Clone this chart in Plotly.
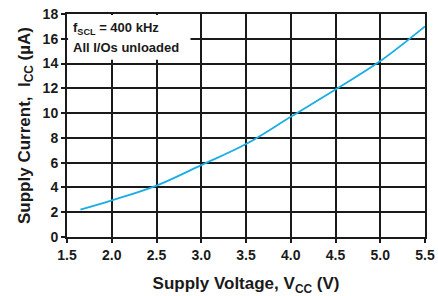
import plotly.graph_objects as go

voltage = [1.65, 2.0, 2.5, 3.0, 3.5, 4.0, 4.5, 5.0, 5.5]
current = [2.2, 2.95, 4.15, 5.8, 7.5, 9.7, 11.9, 14.2, 17.0]
x_ticks = [1.5, 2.0, 2.5, 3.0, 3.5, 4.0, 4.5, 5.0, 5.5]
y_ticks = [0, 2, 4, 6, 8, 10, 12, 14, 16, 18]

font = "Liberation Sans, Arial, Helvetica, sans-serif"
ink = "#1a1a1a"

fig = go.Figure()
fig.add_trace(go.Scatter(x=voltage, y=current, mode="lines",
                         line=dict(color="#1AADE4", width=1.8, shape="spline"),
                         showlegend=False, hoverinfo="skip"))

axis_common = dict(showgrid=True, gridcolor=ink, gridwidth=1.8,
                   showline=True, linecolor=ink, linewidth=2, mirror=True,
                   ticks="outside", ticklen=4, tickwidth=2, tickcolor=ink,
                   zeroline=False, automargin=False,
                   tickfont=dict(family=font, size=14, color=ink))

fig.update_xaxes(range=[1.5, 5.5], tickvals=x_ticks,
                 ticktext=[f"<b>{v:.1f}</b>" for v in x_ticks],
                 title=dict(text="<b>Supply Voltage, V<sub>CC</sub> (V)</b>",
                            font=dict(family=font, size=17, color=ink), standoff=19),
                 **axis_common)
fig.update_yaxes(range=[0, 18], tickvals=y_ticks,
                 ticktext=[f"<b>{v}</b>" for v in y_ticks],
                 title=dict(text="<b>Supply Current,  I<sub>CC</sub> (µA)</b>",
                            font=dict(family=font, size=17, color=ink), standoff=8),
                 **axis_common)

fig.add_shape(type="rect", xref="paper", yref="paper", x0=0.003, x1=0.345, y0=0.795, y1=0.995,
              fillcolor="white", line=dict(width=0), layer="above")
fig.add_annotation(xref="paper", yref="paper", x=0.01, y=0.935, xanchor="left", yanchor="middle",
                   text="<b>f<sub>SCL</sub> = 400 kHz</b>", showarrow=False,
                   font=dict(family=font, size=13, color=ink))
fig.add_annotation(xref="paper", yref="paper", x=0.01, y=0.848, xanchor="left", yanchor="middle",
                   text="<b>All I/Os unloaded</b>", showarrow=False,
                   font=dict(family=font, size=13, color=ink))

fig.update_layout(width=438, height=296, margin=dict(l=67, r=13, t=14, b=59),
                  plot_bgcolor="white", paper_bgcolor="white")

fig.write_html("out.html",
               config={"displayModeBar": False, "responsive": False},
               post_script="document.body.style.margin='0';document.body.style.overflow='hidden';")
